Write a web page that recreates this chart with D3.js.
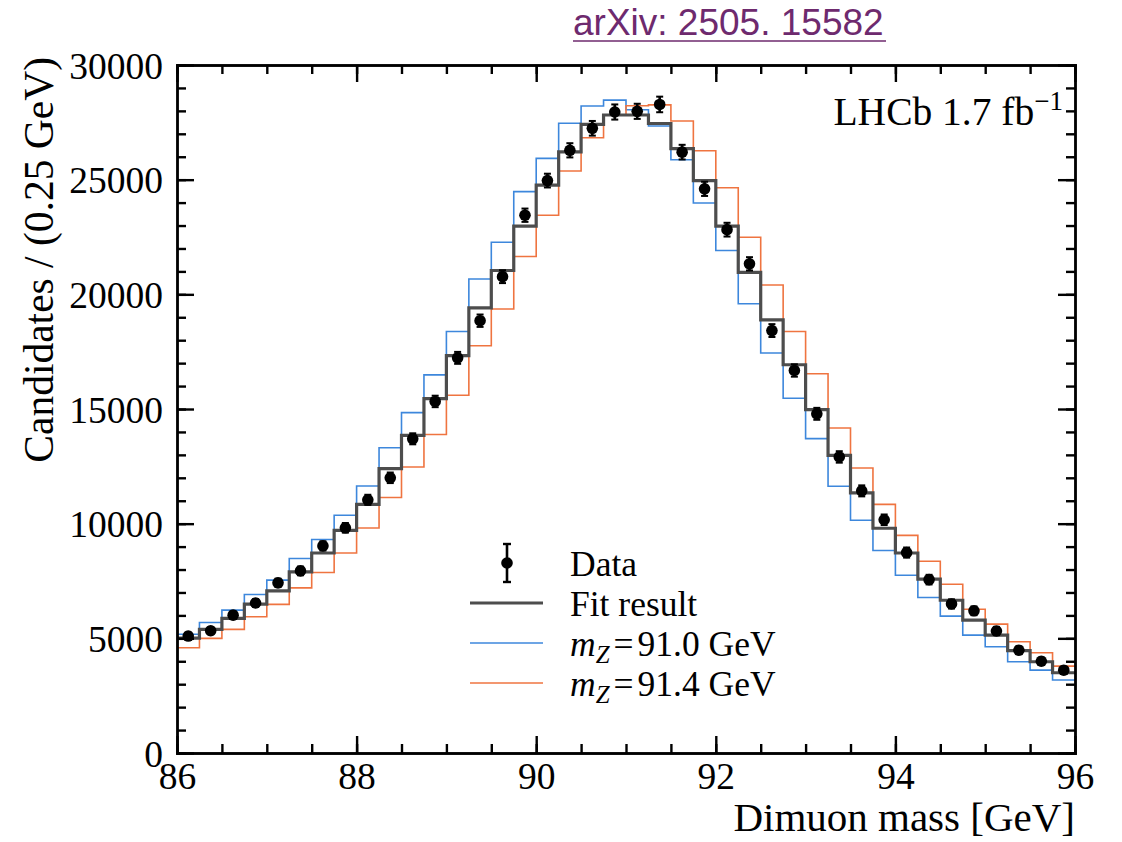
<!DOCTYPE html>
<html>
<head>
<meta charset="utf-8">
<script src="https://cdn.jsdelivr.net/npm/d3@7"></script>
<style>
  html, body { margin: 0; padding: 0; background: #ffffff; }
  svg text { font-family: "Liberation Serif", "Times New Roman", serif; fill: #000; }
</style>
</head>
<body>
<svg id="chart" width="1122" height="842"></svg>
<script>
// ---- Data ----
const binLow = d3.range(86, 96, 0.25);          // lower bin edges, 0.25 GeV bins
const binWidth = 0.25;
const dataCounts = [5100, 5330, 6010, 6540, 7420, 7940, 9030, 9820, 11040, 12000,
  13700, 15330, 17230, 18850, 20770, 23450, 24960, 26280, 27240, 27950,
  27980, 28280, 26200, 24600, 22820, 21330, 18420, 16680, 14790, 12910,
  11430, 10170, 8740, 7560, 6500, 6200, 5320, 4480, 4000, 3610];
const dataErrors = [150, 150, 160, 170, 180, 190, 200, 210, 220, 230,
  240, 250, 260, 270, 280, 290, 300, 310, 320, 330,
  330, 340, 320, 310, 300, 290, 280, 270, 260, 250,
  240, 230, 220, 210, 200, 190, 180, 170, 160, 150];
const fitResult = [5010, 5390, 5870, 6490, 7070, 7900, 8720, 9710, 10840, 12400,
  13850, 15450, 17330, 19410, 21040, 22970, 24760, 26210, 27410, 27820,
  27820, 27450, 26350, 24960, 22970, 20960, 18890, 16930, 14970, 12980,
  11340, 9800, 8720, 7580, 6660, 5790, 5140, 4460, 3980, 3500];
const mz910 = [5180, 5690, 6230, 6910, 7540, 8480, 9310, 10370, 11640, 13310,
  14840, 16490, 18380, 20670, 22270, 24480, 25930, 27460, 28210, 28470,
  28050, 27340, 25870, 23980, 21910, 19590, 17440, 15470, 13710, 11630,
  10150, 8830, 7750, 6780, 5970, 5140, 4630, 3980, 3615, 3180];
const mz914 = [4590, 5000, 5390, 5940, 6480, 7200, 7870, 8720, 9810, 11140,
  12470, 13890, 15600, 17760, 19360, 21650, 23450, 25380, 26830, 27830,
  28220, 28260, 27560, 26260, 24650, 22490, 20410, 18380, 16540, 14170,
  12430, 10840, 9490, 8360, 7360, 6270, 5620, 4850, 4370, 3790];
const xMajorTicks = [86, 88, 90, 92, 94, 96];
const xMinorTicks = d3.range(86, 96.001, 0.5);
const yMajorTicks = [0, 5000, 10000, 15000, 20000, 25000, 30000];
const yMinorTicks = d3.range(0, 30001, 1000);
const legendLabels = ["Data", "Fit result", "91.0 GeV", "91.4 GeV"];

// ---- Layout ----
const L = 177, R = 1075, T = 65, B = 753;
const colFit = "#4d4d4d", colBlue = "#3d87dc", colOrange = "#ef7440";

const svg = d3.select("#chart");
const x = d3.scaleLinear().domain([86, 96]).range([L, R]);
const y = d3.scaleLinear().domain([0, 30000]).range([B, T]);

// ---- Step histograms ----
function stepPoints(vals) {
  const pts = binLow.map((b, i) => [b, vals[i]]);
  pts.push([binLow[binLow.length - 1] + binWidth, vals[vals.length - 1]]);
  return pts;
}
const stepLine = d3.line().x(d => x(d[0])).y(d => y(d[1])).curve(d3.curveStepAfter);

const plot = svg.append("g");
plot.append("path").attr("d", stepLine(stepPoints(mz910)))
  .attr("fill", "none").attr("stroke", colBlue).attr("stroke-width", 1.6);
plot.append("path").attr("d", stepLine(stepPoints(mz914)))
  .attr("fill", "none").attr("stroke", colOrange).attr("stroke-width", 1.6);
plot.append("path").attr("d", stepLine(stepPoints(fitResult)))
  .attr("fill", "none").attr("stroke", colFit).attr("stroke-width", 3.2);

// ---- Data points with error bars ----
const pts = plot.append("g").selectAll("g").data(dataCounts).join("g")
  .attr("transform", (d, i) => `translate(${x(binLow[i] + binWidth / 2)},0)`);
pts.append("line")
  .attr("x1", 0).attr("x2", 0)
  .attr("y1", (d, i) => y(d - dataErrors[i])).attr("y2", (d, i) => y(d + dataErrors[i]))
  .attr("stroke", "#000").attr("stroke-width", 2.6);
pts.append("line").attr("x1", -3.5).attr("x2", 3.5)
  .attr("y1", (d, i) => y(d + dataErrors[i])).attr("y2", (d, i) => y(d + dataErrors[i]))
  .attr("stroke", "#000").attr("stroke-width", 2);
pts.append("line").attr("x1", -3.5).attr("x2", 3.5)
  .attr("y1", (d, i) => y(d - dataErrors[i])).attr("y2", (d, i) => y(d - dataErrors[i]))
  .attr("stroke", "#000").attr("stroke-width", 2);
pts.append("circle").attr("cx", 0).attr("cy", d => y(d)).attr("r", 5.8).attr("fill", "#000");

// ---- Axes (ticks inside on all four sides) ----
const AX_W = 2.4;
function styleAxis(g) {
  g.selectAll(".domain").attr("stroke", "#000").attr("stroke-width", AX_W);
  g.selectAll(".tick line").attr("stroke", "#000").attr("stroke-width", AX_W);
}
const fs = "37.5px";

const gB = svg.append("g").attr("transform", `translate(0,${B})`)
  .call(d3.axisBottom(x).tickValues(xMajorTicks).tickSize(-17).tickSizeOuter(0).tickFormat(d3.format("d")));
gB.selectAll(".tick text").attr("y", 36).attr("dy", null)
  .attr("text-anchor", "middle")
  .style("font-size", fs).attr("fill", "#000");
styleAxis(gB);
svg.append("g").attr("transform", `translate(0,${B})`)
  .call(d3.axisBottom(x).tickValues(xMinorTicks).tickSize(-9).tickSizeOuter(0).tickFormat(""))
  .call(styleAxis);

const gT = svg.append("g").attr("transform", `translate(0,${T})`)
  .call(d3.axisTop(x).tickValues(xMajorTicks).tickSize(-17).tickSizeOuter(0).tickFormat(""));
styleAxis(gT);
svg.append("g").attr("transform", `translate(0,${T})`)
  .call(d3.axisTop(x).tickValues(xMinorTicks).tickSize(-9).tickSizeOuter(0).tickFormat(""))
  .call(styleAxis);

const gL = svg.append("g").attr("transform", `translate(${L},0)`)
  .call(d3.axisLeft(y).tickValues(yMajorTicks).tickSize(-17).tickSizeOuter(0).tickFormat(d3.format("d")));
gL.selectAll(".tick text").attr("x", -14).attr("dy", null).attr("y", 13)
  .style("font-size", fs).attr("fill", "#000");
styleAxis(gL);
svg.append("g").attr("transform", `translate(${L},0)`)
  .call(d3.axisLeft(y).tickValues(yMinorTicks).tickSize(-9).tickSizeOuter(0).tickFormat(""))
  .call(styleAxis);

const gR = svg.append("g").attr("transform", `translate(${R},0)`)
  .call(d3.axisRight(y).tickValues(yMajorTicks).tickSize(-17).tickSizeOuter(0).tickFormat(""));
styleAxis(gR);
svg.append("g").attr("transform", `translate(${R},0)`)
  .call(d3.axisRight(y).tickValues(yMinorTicks).tickSize(-9).tickSizeOuter(0).tickFormat(""))
  .call(styleAxis);
svg.selectAll(".domain").attr("stroke-linecap", "square");
svg.selectAll("g[font-family]").attr("font-family", null);

// ---- Axis titles ----
svg.append("text")
  .attr("transform", "translate(1075,831)")
  .attr("text-anchor", "end").style("font-size", "41px")
  .text("Dimuon mass [GeV]");
svg.append("text")
  .attr("transform", "translate(53,57) rotate(-90)")
  .attr("text-anchor", "end").style("font-size", "41.5px")
  .text("Candidates / (0.25 GeV)");

// ---- LHCb label ----
const lhcb = svg.append("text")
  .attr("transform", "translate(1063,125)")
  .attr("text-anchor", "end").style("font-size", "39.5px");
lhcb.append("tspan").text("LHCb 1.7 fb");
lhcb.append("tspan").attr("dy", -15).style("font-size", "27px").text("\u22121");

// ---- Legend ----
const leg = svg.append("g");
const rowY = [563, 603, 643, 683];
// data entry
leg.append("line").attr("x1", 507).attr("x2", 507).attr("y1", rowY[0] - 19).attr("y2", rowY[0] + 19)
  .attr("stroke", "#000").attr("stroke-width", 2.6);
leg.append("line").attr("x1", 503).attr("x2", 511).attr("y1", rowY[0] - 19).attr("y2", rowY[0] - 19)
  .attr("stroke", "#000").attr("stroke-width", 2.4);
leg.append("line").attr("x1", 503).attr("x2", 511).attr("y1", rowY[0] + 19).attr("y2", rowY[0] + 19)
  .attr("stroke", "#000").attr("stroke-width", 2.4);
leg.append("circle").attr("cx", 507).attr("cy", rowY[0]).attr("r", 5.8).attr("fill", "#000");
// line entries
[[colFit, 3.2], [colBlue, 1.6], [colOrange, 1.6]].forEach((c, i) => {
  leg.append("line").attr("x1", 470).attr("x2", 543)
    .attr("y1", rowY[i + 1]).attr("y2", rowY[i + 1])
    .attr("stroke", c[0]).attr("stroke-width", c[1]);
});
function legText(i) {
  return leg.append("text")
    .attr("transform", `translate(570,${rowY[i] + 13})`)
    .style("font-size", "35.5px");
}
legText(0).text(legendLabels[0]);
legText(1).text(legendLabels[1]);
[2, 3].forEach(i => {
  const t = legText(i);
  t.append("tspan").style("font-style", "italic").text("m");
  t.append("tspan").style("font-style", "italic").style("font-size", "25px").attr("dy", 7).text("Z");
  t.append("tspan").attr("dy", -7).attr("dx", 4).text("=");
  t.append("tspan").attr("dx", 4).text(legendLabels[i]);
});

// ---- arXiv header ----
const arxivCol = "#6e2a6e";
svg.append("text")
  .attr("transform", "translate(573,35)")
  .style("font-family", "'Liberation Sans', Arial, sans-serif")
  .style("font-size", "37px").attr("fill", arxivCol).style("fill", arxivCol)
  .text("arXiv: 2505. 15582");
svg.append("line").attr("x1", 573).attr("x2", 886).attr("y1", 41).attr("y2", 41)
  .attr("stroke", arxivCol).attr("stroke-width", 1.6);
</script>
</body>
</html>
